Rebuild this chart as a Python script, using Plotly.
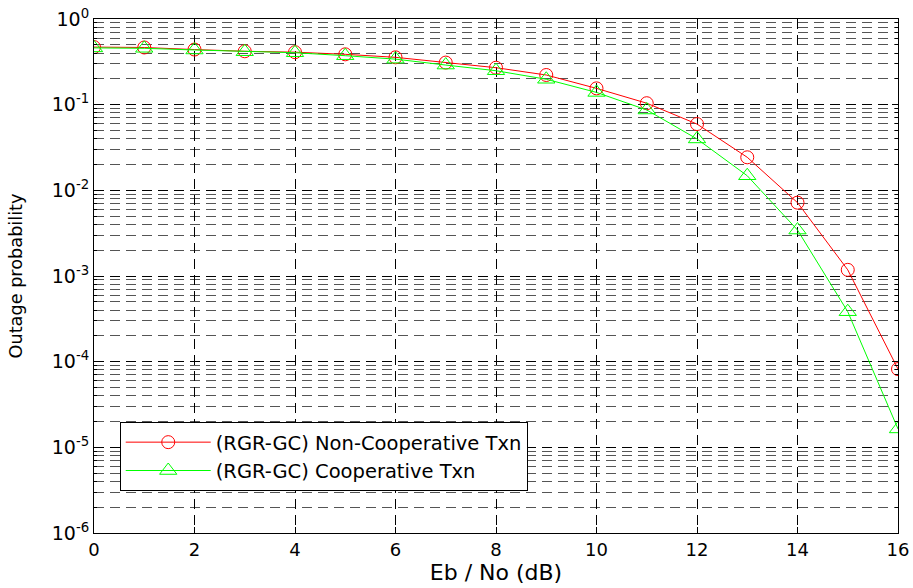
import plotly.graph_objects as go

ebno = [0, 1, 2, 3, 4, 5, 6, 7, 8, 9, 10, 11, 12, 13, 14, 15, 16]
non_coop = [0.47, 0.465, 0.44, 0.42, 0.41, 0.387, 0.357, 0.31, 0.27, 0.222, 0.155,
            0.104, 0.0594, 0.0243, 0.00718, 0.00118, 8.2e-5]
coop = [0.46, 0.455, 0.435, 0.415, 0.404, 0.373, 0.34, 0.29, 0.249, 0.198, 0.139,
        0.0867, 0.0398, 0.0148, 0.00344, 3.83e-4, 1.64e-5]

x_ticks = [0, 2, 4, 6, 8, 10, 12, 14, 16]
y_exps = [0, -1, -2, -3, -4, -5, -6]
y_tickvals = [10.0 ** e for e in y_exps]
y_ticktext = ["10<sup>%d</sup>" % e for e in y_exps]
minor_vals = [m * 10.0 ** e for e in range(-6, 0) for m in range(2, 10)]

FONT = "DejaVu Sans, Liberation Sans, Arial, sans-serif"

fig = go.Figure()
fig.add_trace(go.Scatter(
    x=ebno, y=non_coop, mode="lines+markers",
    name="(RGR-GC) Non-Cooperative Txn",
    line=dict(color="#ff0000", width=1),
    marker=dict(symbol="circle-open", size=13, color="#ff0000", line=dict(width=1)),
))
fig.add_trace(go.Scatter(
    x=ebno, y=coop, mode="lines+markers",
    name="(RGR-GC) Cooperative Txn",
    line=dict(color="#00ff00", width=1),
    marker=dict(symbol="triangle-up-open", size=15, color="#00ff00", line=dict(width=1)),
))

fig.update_layout(
    width=913, height=588,
    margin=dict(l=94, r=15, t=19, b=55),
    paper_bgcolor="white", plot_bgcolor="white",
    font=dict(family=FONT, size=15, color="black"),
    showlegend=True,
    legend=dict(
        x=0.032, y=0.216, xanchor="left", yanchor="top",
        bgcolor="white", bordercolor="black", borderwidth=1,
        font=dict(family=FONT, size=19.5, color="black"),
        tracegroupgap=0, itemwidth=85,
    ),
)

fig.update_xaxes(
    range=[0, 16], tickmode="array", tickvals=x_ticks,
    ticks="inside", ticklen=6, tickcolor="black",
    showline=True, linecolor="black", linewidth=1, mirror="ticks",
    showgrid=True, gridcolor="black", gridwidth=1, griddash="10px,6px",
    zeroline=False, automargin=False,
    tickfont=dict(family=FONT, size=18),
    title=dict(text="Eb / No (dB)", font=dict(family=FONT, size=22), standoff=4),
)
fig.update_yaxes(
    type="log", range=[-6, 0], tickmode="array",
    tickvals=y_tickvals, ticktext=y_ticktext,
    ticks="inside", ticklen=6, tickcolor="black",
    showline=True, linecolor="black", linewidth=1, mirror="ticks",
    showgrid=True, gridcolor="black", gridwidth=1, griddash="10px,6px",
    zeroline=False, automargin=False,
    tickfont=dict(family=FONT, size=19),
    minor=dict(tickmode="array", tickvals=minor_vals, ticks="inside", ticklen=3,
               tickcolor="black", showgrid=True, gridcolor="#555555",
               gridwidth=1, griddash="10px,6px"),
    title=dict(text="Outage probability", font=dict(family=FONT, size=17.7), standoff=24),
)

fig.write_html("out.html", config={"displayModeBar": False},
               post_script="document.body.style.margin='0px';document.body.style.overflow='hidden';")
